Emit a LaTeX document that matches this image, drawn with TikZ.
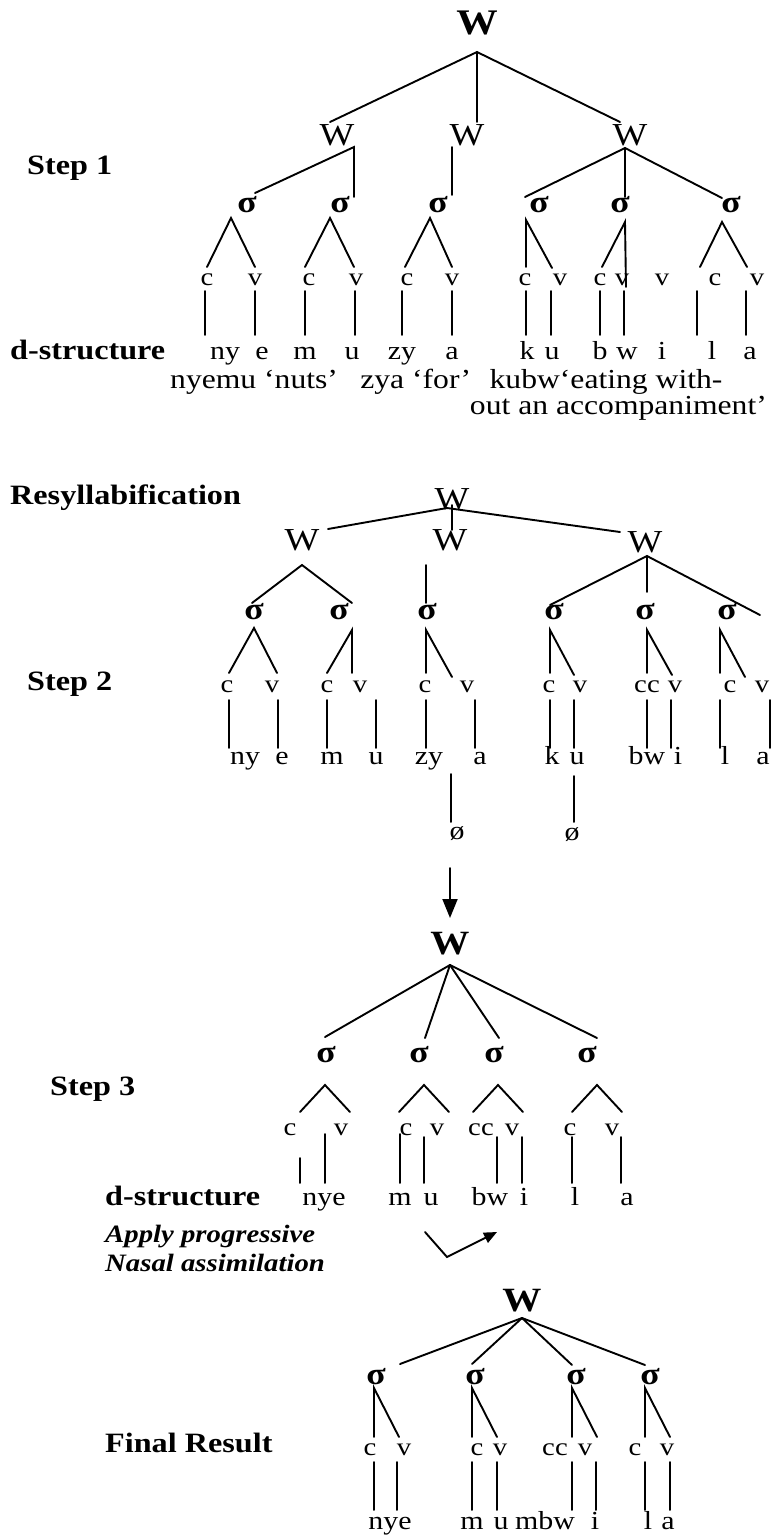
\documentclass[tikz,border=0pt]{standalone}
\usepackage{fontspec}
\setmainfont{Liberation Serif}[FakeStretch=1.15]
\usetikzlibrary{arrows.meta}

\tikzset{
  tree/.style={line width=1.9pt, line cap=round},
  lbl/.style={font=\fontsize{28}{30}\selectfont\bfseries, anchor=mid west, inner sep=0pt},
  rule/.style={font=\fontsize{25}{27}\selectfont\bfseries\itshape, anchor=mid west, inner sep=0pt},
  wtop/.style={font=\fontsize{36}{38}\selectfont\bfseries, inner sep=0pt},
  wreg/.style={font=\fontsize{32}{34}\selectfont, inner sep=0pt},
  sig/.style={font=\fontsize{31}{33}\selectfont\bfseries, anchor=mid, inner sep=0pt},
  cv/.style={font=\fontsize{25}{27}\selectfont, anchor=mid, inner sep=0pt},
  sg/.style={font=\fontsize{26}{28}\selectfont, anchor=mid, inner sep=0pt},
  gl/.style={font=\fontsize{27.5}{29}\selectfont, anchor=mid west, inner sep=0pt},
}

\begin{document}
\begin{tikzpicture}[x=1pt,y=-1pt]
\useasboundingbox[fill=white] (0,0) rectangle (775,1540);

% ================= Step 1 =================
\node[lbl] (step1) at (27,172) {Step 1};
\node[wtop] (aW) at (477,23) {W};
\node[wreg] (aW1) at (337,135) {W};
\node[wreg] (aW2) at (467,135) {W};
\node[wreg] (aW3) at (630,135) {W};

\coordinate (a0) at (477,52);
\coordinate (a0L) at (330,122);
\coordinate (a0M) at (477,122);
\coordinate (a0R) at (620,122);
\draw[tree] (a0L) -- (a0) -- (a0R);
\draw[tree] (a0) -- (a0M);

\coordinate (aj1) at (354,147); \coordinate (aj1a) at (255,193); \coordinate (aj1b) at (354,197);
\draw[tree] (aj1a) -- (aj1) -- (aj1b);
\coordinate (aj2) at (452,147); \coordinate (aj2b) at (452,195);
\draw[tree] (aj2) -- (aj2b);
\coordinate (aj3) at (625,148); \coordinate (aj3a) at (525,197);
\coordinate (aj3b) at (625,197); \coordinate (aj3c) at (722,198);
\draw[tree] (aj3a) -- (aj3) -- (aj3c);
\draw[tree] (aj3) -- (aj3b);

\foreach \i/\x in {1/247,2/340,3/438,4/539,5/620,6/731}
  \node[sig] (aS\i) at (\x,210) {σ};

% syllable legs
\foreach \i/\ax/\ay/\lx/\ly/\rx/\ry in {
  1/231/218/207/267/255/267,
  2/330/218/305/267/354/267,
  3/430/218/405/267/452/267,
  4/526/220/526/267/552/268,
  5/625/222/602/267/626/287,
  6/722/222/700/267/747/267}{
  \coordinate (as\i) at (\ax,\ay);
  \coordinate (as\i l) at (\lx,\ly);
  \coordinate (as\i r) at (\rx,\ry);
  \draw[tree] (as\i l) -- (as\i) -- (as\i r);
}

\foreach \i/\x/\t in {1/207/c,2/255/v,3/309/c,4/356/v,5/407/c,6/452/v,
  7/525/c,8/560/v,9/600/c,10/622/v,11/662/v,12/715/c,13/757/v}
  \node[cv] (aC\i) at (\x,283) {\t};

\foreach \i/\x in {1/205,2/255,3/305,4/355,5/402,6/452,7/526,8/551,9/600,10/624,11/697,12/746}{
  \coordinate (aLt\i) at (\x,291);
  \coordinate (aLb\i) at (\x,335);
  \draw[tree] (aLt\i) -- (aLb\i);
}

\node[lbl] (dstr1) at (10,357) {d-structure};
\foreach \i/\x/\t in {1/225/ny,2/262/e,3/305/m,4/352/u,5/402/zy,6/452/a,
  7/527/k,8/552/u,9/600/b,10/627/w,11/662/i,12/712/l,13/750/a}
  \node[sg] (aT\i) at (\x,357) {\t};

\node[gl] (gl1) at (170,386) {nyemu ‘nuts’};
\node[gl] (gl2) at ([xshift=22pt]gl1.mid east) {zya ‘for’};
\node[gl] (gl3) at ([xshift=18pt]gl2.mid east) {kubw‘eating with-};
\node[gl, anchor=mid east] (gl4) at (767,412) {out an accompaniment’};

% ================= Step 2 =================
\node[lbl] (resyl) at (10,502) {Resyllabification};
\node[wreg] (bW) at (452,499) {W};
\node[wreg] (bW1) at (302,540) {W};
\node[wreg] (bW2) at (450,540) {W};
\node[wreg] (bW3) at (645,542) {W};

\coordinate (b0) at (447,508);
\coordinate (b0L) at (328,529);
\coordinate (b0R) at (620,532);
\coordinate (b0t) at (452,505);
\coordinate (b0M) at (452,530);
\draw[tree] (b0L) -- (b0) -- (b0R);
\draw[tree] (b0t) -- (b0M);

\coordinate (bj1) at (302,565); \coordinate (bj1a) at (252,603); \coordinate (bj1b) at (352,603);
\draw[tree] (bj1a) -- (bj1) -- (bj1b);
\coordinate (bj2) at (426,565); \coordinate (bj2b) at (426,603);
\draw[tree] (bj2) -- (bj2b);
\coordinate (bj3) at (647,556); \coordinate (bj3a) at (550,605);
\coordinate (bj3b) at (647,592); \coordinate (bj3c) at (760,615);
\draw[tree] (bj3a) -- (bj3) -- (bj3c);
\draw[tree] (bj3) -- (bj3b);

\foreach \i/\x in {1/254,2/339,3/427,4/554,5/645,6/727}
  \node[sig] (bS\i) at (\x,617) {σ};

\foreach \i/\ax/\ay/\lx/\ly/\rx/\ry in {
  1/254/628/229/673/277/673,
  2/352/630/327/673/352/673,
  3/426/630/426/673/452/677,
  4/550/630/550/673/574/675,
  5/647/630/647/673/672/675,
  6/720/630/720/673/745/677}{
  \coordinate (bs\i) at (\ax,\ay);
  \coordinate (bs\i l) at (\lx,\ly);
  \coordinate (bs\i r) at (\rx,\ry);
  \draw[tree] (bs\i l) -- (bs\i) -- (bs\i r);
}

\node[lbl] (step2) at (27,688) {Step 2};
\foreach \i/\x/\t in {1/227/c,2/272/v,3/327/c,4/360/v,5/425/c,6/467/v,
  7/549/c,8/580/v,9/647/cc,10/675/v,11/730/c,12/762/v}
  \node[cv] (bC\i) at (\x,690) {\t};

\foreach \i/\x in {1/229,2/278,3/327,4/376,5/426,6/475,7/550,8/574,9/647,10/671,11/720,12/770}{
  \coordinate (bLt\i) at (\x,700);
  \coordinate (bLb\i) at (\x,748);
  \draw[tree] (bLt\i) -- (bLb\i);
}

\foreach \i/\x/\t in {1/245/ny,2/282/e,3/332/m,4/376/u,5/429/zy,6/480/a,
  7/552/k,8/577/u,9/647/bw,10/678/i,11/725/l,12/763/a}
  \node[sg] (bT\i) at (\x,762) {\t};

\coordinate (bd1t) at (451,774); \coordinate (bd1b) at (451,822);
\coordinate (bd2t) at (574,776); \coordinate (bd2b) at (574,822);
\draw[tree] (bd1t) -- (bd1b);
\draw[tree] (bd2t) -- (bd2b);
\node[sg] (null1) at (457,837) {ø};
\node[sg] (null2) at (572,838) {ø};

\coordinate (arrT) at (450,868);
\coordinate (arrB) at (450,918);
\draw[tree, -{Triangle[length=19pt,width=15pt]}] (arrT) -- (arrB);

% ================= Step 3 =================
\node[wtop, font=\fontsize{34}{36}\selectfont\bfseries] (cW) at (450,944) {W};
\coordinate (c0) at (450,965);
\foreach \i/\x/\y in {1/325/1037,2/425/1038,3/499/1038,4/597/1038}{
  \coordinate (cw\i) at (\x,\y);
  \draw[tree] (c0) -- (cw\i);
}
\foreach \i/\x in {1/326,2/419,3/494,4/587}
  \node[sig] (cS\i) at (\x,1060) {σ};

\foreach \i/\x in {1/325,2/424,3/498,4/597}{
  \coordinate (cs\i) at (\x,1085);
  \coordinate (cs\i l) at (\x-25,1112);
  \coordinate (cs\i r) at (\x+25,1112);
  \draw[tree] (cs\i l) -- (cs\i) -- (cs\i r);
}

\node[lbl] (step3) at (50,1093) {Step 3};
\foreach \i/\x/\t in {1/290/c,2/341/v,3/406/c,4/437/v,5/481/cc,6/512/v,7/570/c,8/612/v}
  \node[cv] (cC\i) at (\x,1133) {\t};

\foreach \i/\x/\y in {1/300/1158,2/325/1134,3/400/1134,4/424/1137,5/497/1137,6/522/1137,7/572/1137,8/621/1137}{
  \coordinate (cLt\i) at (\x,\y);
  \coordinate (cLb\i) at (\x,1183);
  \draw[tree] (cLt\i) -- (cLb\i);
}

\node[lbl] (dstr2) at (105,1203) {d-structure};
\foreach \i/\x/\t in {1/324/nye,2/400/m,3/431/u,4/490/bw,5/524/i,6/575/l,7/627/a}
  \node[sg] (cT\i) at (\x,1203) {\t};

\node[rule] (apply1) at (105,1240) {Apply progressive};
\node[rule] (apply2) at (105,1269) {Nasal assimilation};

\coordinate (nasA) at (425,1232);
\coordinate (nasB) at (447,1257);
\coordinate (nasC) at (497,1232);
\draw[tree, -{Triangle[length=13pt,width=11pt]}] (nasA) -- (nasB) -- (nasC);

% ================= Final result =================
\node[wtop, font=\fontsize{34}{36}\selectfont\bfseries] (dW) at (522,1301) {W};
\coordinate (d0) at (522,1318);
\foreach \i/\x/\y in {1/400/1364,2/472/1364,3/572/1365,4/645/1365}{
  \coordinate (dw\i) at (\x,\y);
  \draw[tree] (d0) -- (dw\i);
}
\foreach \i/\x in {1/376,2/475,3/576,4/650}
  \node[sig] (dS\i) at (\x,1382) {σ};

\foreach \i/\x in {1/374,2/472,3/572,4/645}{
  \coordinate (ds\i) at (\x,1388);
  \coordinate (ds\i l) at (\x,1437);
  \coordinate (ds\i r) at (\x+25,1437);
  \draw[tree] (ds\i l) -- (ds\i) -- (ds\i r);
}

\node[lbl] (final) at (105,1450) {Final Result};
\foreach \i/\x/\t in {1/370/c,2/404/v,3/477/c,4/500/v,5/555/cc,6/585/v,7/635/c,8/667/v}
  \node[cv] (dC\i) at (\x,1453) {\t};

\foreach \i/\x in {1/374,2/397,3/472,4/497,5/572,6/596,7/645,8/670}{
  \coordinate (dLt\i) at (\x,1462);
  \coordinate (dLb\i) at (\x,1510);
  \draw[tree] (dLt\i) -- (dLb\i);
}

\foreach \i/\x/\t in {1/390/nye,2/472/m,3/501/u,4/545/mbw,5/595/i,6/648/l,7/668/a}
  \node[sg] (dT\i) at (\x,1527) {\t};

\end{tikzpicture}
\end{document}
